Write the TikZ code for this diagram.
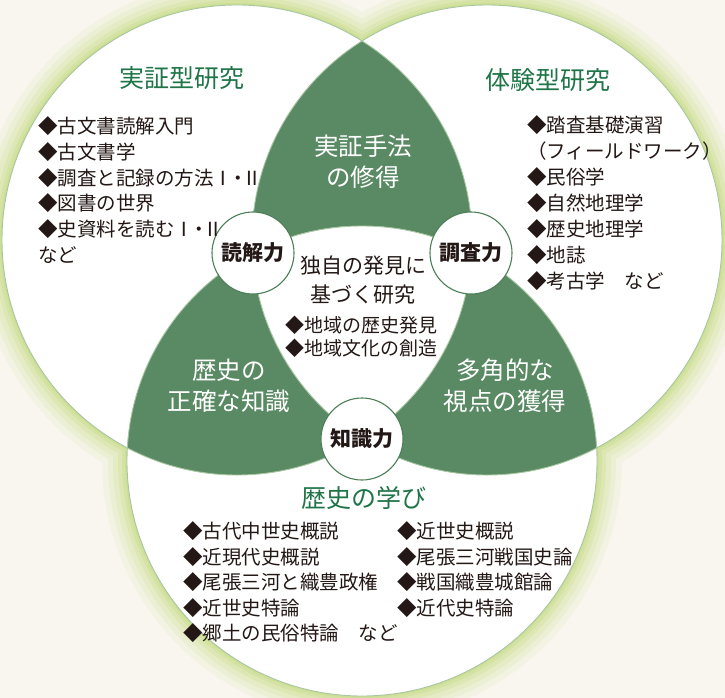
\documentclass[tikz,border=0pt]{standalone}
\usepackage{fontspec}
\newfontfamily\jp{Noto Sans CJK JP}
\newfontfamily\jpp[RawFeature=+palt]{Noto Sans CJK JP}
\newcommand\romnum[1]{{\jpp #1}}
\definecolor{bgc}{HTML}{F8F6EE}
\definecolor{glowc}{HTML}{C6DB82}
\definecolor{gfill}{HTML}{5A8A63}
\definecolor{edgec}{HTML}{A8C6A2}
\definecolor{ringc}{HTML}{4C7F57}
\definecolor{headc}{HTML}{1F7548}
\definecolor{textc}{HTML}{231815}
\tikzset{
  head/.style={inner sep=0pt, text=headc, font=\jp\fontsize{25}{25}\selectfont},
  greentext/.style={inner sep=0pt, text=white, align=center, font=\jp\fontsize{24.5}{31}\selectfont},
  item/.style={anchor=west, inner sep=0pt, text=textc, font=\jp\fontsize{19.5}{19.5}\selectfont},
  skill/.style={circle, draw=ringc, fill=white, line width=1.1pt, minimum size=82pt, inner sep=0pt, text=textc, font=\jp\bfseries\fontsize{21}{21}\selectfont},
  centertext/.style={inner sep=0pt, text=textc, align=center, font=\jp\fontsize{21}{29.5}\selectfont},
  bigc/.style={radius=235pt}
}
\begin{document}
\begin{tikzpicture}[x=1pt,y=-1pt]
\useasboundingbox (0,0) rectangle (725,698);
\fill[bgc] (0,0) rectangle (725,698);
\coordinate (L) at (237,240);
\coordinate (R) at (487,240);
\coordinate (B) at (362,461);
% glow
\foreach \w/\o in {50/0.10, 38/0.14, 28/0.18, 18/0.24, 10/0.32, 4/0.45}{
  \draw[glowc, line width=\w pt, opacity=\o] (L) circle[bigc] (R) circle[bigc] (B) circle[bigc];
}
% white circles
\fill[white] (L) circle[bigc] (R) circle[bigc] (B) circle[bigc];
% green pairwise regions
\begin{scope}
  \clip (L) circle[bigc]; \clip (R) circle[bigc];
  \fill[gfill] (0,0) rectangle (725,698);
  \fill[white] (B) circle[bigc];
\end{scope}
\begin{scope}
  \clip (L) circle[bigc]; \clip (B) circle[bigc];
  \fill[gfill] (0,0) rectangle (725,698);
  \fill[white] (R) circle[bigc];
\end{scope}
\begin{scope}
  \clip (R) circle[bigc]; \clip (B) circle[bigc];
  \fill[gfill] (0,0) rectangle (725,698);
  \fill[white] (L) circle[bigc];
\end{scope}
% outlines
\draw[edgec, line width=0.9pt] (L) circle[bigc] (R) circle[bigc] (B) circle[bigc];

% headings
\node[head] (h1) at (182,78) {実証型研究};
\node[head] (h2) at (548,80) {体験型研究};
\node[head] (h3) at (364,498) {歴史の学び};

% green region texts
\node[greentext] (g1) at (363,162) {実証手法\\の修得};
\node[greentext] (g2) at (229,386) {歴史の\\正確な知識};
\node[greentext] (g3) at (505,386) {多角的な\\視点の獲得};

% center
\node[centertext] (c1) at (363,280) {独自の発見に\\基づく研究};
\node[item, font=\jp\fontsize{19}{19}\selectfont] (c2) at (285,325) {◆地域の歴史発見};
\node[item, font=\jp\fontsize{19}{19}\selectfont] (c3) at (285,348) {◆地域文化の創造};

% skill circles
\node[skill] (dokkai) at (253,253) {読解力};
\node[skill] (chosa) at (471,253) {調査力};
\node[skill] (chishiki) at (362,439) {知識力};

% left list
\foreach \t [count=\i] in {◆古文書読解入門, ◆古文書学, {◆調査と記録の方法\romnum{Ⅰ・Ⅱ}}, ◆図書の世界, {◆史資料を読む\romnum{Ⅰ・Ⅱ}}, など}{
  \node[item] (a\i) at (38,{126+25.8*(\i-1)}) {\t};
}
% right list
\foreach \t [count=\i] in {◆踏査基礎演習, （フィールドワーク）, ◆民俗学, ◆自然地理学, ◆歴史地理学, ◆地誌, ◆考古学　など}{
  \node[item] (b\i) at (527,{125+26*(\i-1)}) {\t};
}
% bottom lists
\foreach \t [count=\i] in {◆古代中世史概説, ◆近現代史概説, ◆尾張三河と織豊政権, ◆近世史特論, ◆郷土の民俗特論　など}{
  \node[item] (d\i) at (183,{531.5+25.5*(\i-1)}) {\t};
}
\foreach \t [count=\i] in {◆近世史概説, ◆尾張三河戦国史論, ◆戦国織豊城館論, ◆近代史特論}{
  \node[item] (e\i) at (397,{531.5+25.5*(\i-1)}) {\t};
}
\end{tikzpicture}
\end{document}
